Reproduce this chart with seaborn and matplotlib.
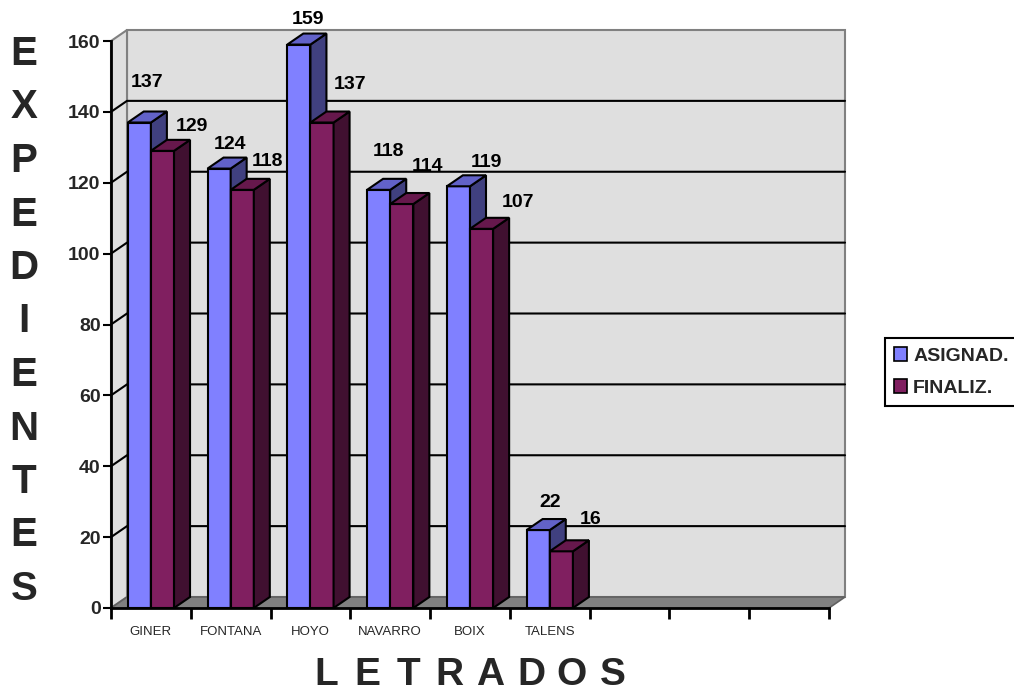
import matplotlib
matplotlib.use("Agg")
import matplotlib.pyplot as plt
from matplotlib.patches import Polygon, Patch
import pandas as pd
import seaborn as sns

sns.set_theme(style="white")
plt.rcParams['font.family'] = ['Liberation Sans', 'DejaVu Sans']

## Data
letrados = ["GINER", "FONTANA", "HOYO", "NAVARRO", "BOIX", "TALENS"]
asignados = [137, 124, 159, 118, 119, 22]
finalizados = [129, 118, 137, 114, 107, 16]
series = ["ASIGNAD.", "FINALIZ."]
y_ticks = [0, 20, 40, 60, 80, 100, 120, 140, 160]
n_slots = 9  # category axis keeps three empty slots on the right

## Style
front = {"ASIGNAD.": "#8080FF", "FINALIZ.": "#801F60"}
top = {"ASIGNAD.": "#6262C8", "FINALIZ.": "#66184C"}
side = {"ASIGNAD.": "#40407F", "FINALIZ.": "#401030"}
# label offsets (pixels) from the front top of each bar, as Excel placed them
label_off = {
    "ASIGNAD.": [(8, 40), (11, 24), (9, 25), (10, 38), (28, 24), (12, 28)],
    "FINALIZ.": [(29, 24), (25, 28), (28, 38), (26, 38), (36, 26), (29, 32)],
}
DEPTH_PX = (16, 11)

df = pd.DataFrame({
    "Letrado": letrados * 2,
    "Serie": [series[0]] * len(letrados) + [series[1]] * len(letrados),
    "Expedientes": asignados + finalizados,
})

fig = plt.figure(figsize=(10.14, 6.94), dpi=100)
ax = fig.add_axes([111 / 1014, 86 / 694, 718 / 1014, 567 / 694])

sns.barplot(data=df, x="Letrado", y="Expedientes", hue="Serie", order=letrados,
            hue_order=series, palette=front, width=0.58, saturation=1,
            edgecolor="black", linewidth=1.5, legend=False, ax=ax)

ax.set_xlim(-0.5, n_slots - 0.5)
ax.set_ylim(0, 160)
x0, x1 = ax.get_xlim()
ddx = DEPTH_PX[0] * (x1 - x0) / 718
ddy = DEPTH_PX[1] * 160 / 567

## Walls and floor
wall_kw = dict(facecolor="#DFDFDF", edgecolor="#808080", linewidth=1.5, clip_on=False, zorder=0.5)
ax.add_patch(Polygon([(x0 + ddx, ddy), (x1 + ddx, ddy), (x1 + ddx, 160 + ddy), (x0 + ddx, 160 + ddy)], **wall_kw))
ax.add_patch(Polygon([(x0, 0), (x0 + ddx, ddy), (x0 + ddx, 160 + ddy), (x0, 160)], **wall_kw))
ax.add_patch(Polygon([(x0, 0), (x1, 0), (x1 + ddx, ddy), (x0 + ddx, ddy)],
                     facecolor="#808080", edgecolor="#606060", linewidth=1.2, clip_on=False, zorder=0.8))
for y in y_ticks[1:-1]:
    ax.plot([x0, x0 + ddx, x1 + ddx], [y, y + ddy, y + ddy], color="black", lw=1.5,
            clip_on=False, zorder=0.9)

## 3D faces of the bars + value labels
for k, (name, cont) in enumerate(zip(series, ax.containers)):
    for i, bar in enumerate(cont):
        bx, bw, bh = bar.get_x(), bar.get_width(), bar.get_height()
        bar.set_zorder(3 + k)
        ax.add_patch(Polygon([(bx + bw, 0), (bx + bw + ddx, ddy), (bx + bw + ddx, bh + ddy), (bx + bw, bh)],
                             facecolor=side[name], edgecolor="black", linewidth=1.5,
                             clip_on=False, zorder=3 + k))
        ax.add_patch(Polygon([(bx, bh), (bx + bw, bh), (bx + bw + ddx, bh + ddy), (bx + ddx, bh + ddy)],
                             facecolor=top[name], edgecolor="black", linewidth=1.5,
                             clip_on=False, zorder=3 + k))
        ox, oy = label_off[name][i]
        ax.annotate(f"{bh:.0f}", xy=(bx + bw / 2, bh), xytext=(ox, oy), textcoords="offset pixels",
                    ha="center", va="center", fontsize=14, fontweight="bold", color="black",
                    zorder=10, annotation_clip=False)

## Axes style
ax.set_xticks([i - 0.5 for i in range(n_slots + 1)])
ax.set_xticklabels([])
ax.set_xticks(range(len(letrados)), minor=True)
ax.set_xticklabels(letrados, minor=True, fontsize=9.5)
ax.tick_params(axis="x", which="major", length=8, width=2, color="black", direction="out", bottom=True)
ax.tick_params(axis="x", which="minor", length=0, pad=13, bottom=True)
ax.set_yticks(y_ticks)
ax.set_yticklabels([str(v) for v in y_ticks], fontsize=14, fontweight="bold")
ax.tick_params(axis="y", length=6, width=1.5, color="black", direction="out", left=True, pad=1.5)
ax.set_xlabel("")
ax.set_ylabel("")
for s in ["top", "right"]:
    ax.spines[s].set_visible(False)
for s in ["left", "bottom"]:
    ax.spines[s].set_color("black")
    ax.spines[s].set_linewidth(2)
    ax.spines[s].set_zorder(6)
ax.patch.set_visible(False)

## Titles made of spaced letters
for i, ch in enumerate("EXPEDIENTES"):
    fig.text(24 / 1014, 1 - (54 + i * 53.5) / 694, ch, ha="center", va="center",
             fontsize=29, fontweight="bold")
for i, ch in enumerate("LETRADOS"):
    fig.text((326 + i * 41) / 1014, 1 - 675 / 694, ch, ha="center", va="center",
             fontsize=28, fontweight="bold")

## Legend
handles = [Patch(facecolor=front[s], edgecolor="black", linewidth=1.2, label=s) for s in series]
leg = fig.legend(handles=handles, loc="center left", bbox_to_anchor=(885 / 1014, 1 - 372 / 694),
                 frameon=True, fancybox=False, edgecolor="black", framealpha=1,
                 prop={"weight": "bold", "size": 14}, handlelength=0.7, handleheight=0.7,
                 handletextpad=0.3, borderpad=0.45, labelspacing=0.75, borderaxespad=0)
leg.get_frame().set_linewidth(1.5)

fig.savefig("out.png", dpi=100)
